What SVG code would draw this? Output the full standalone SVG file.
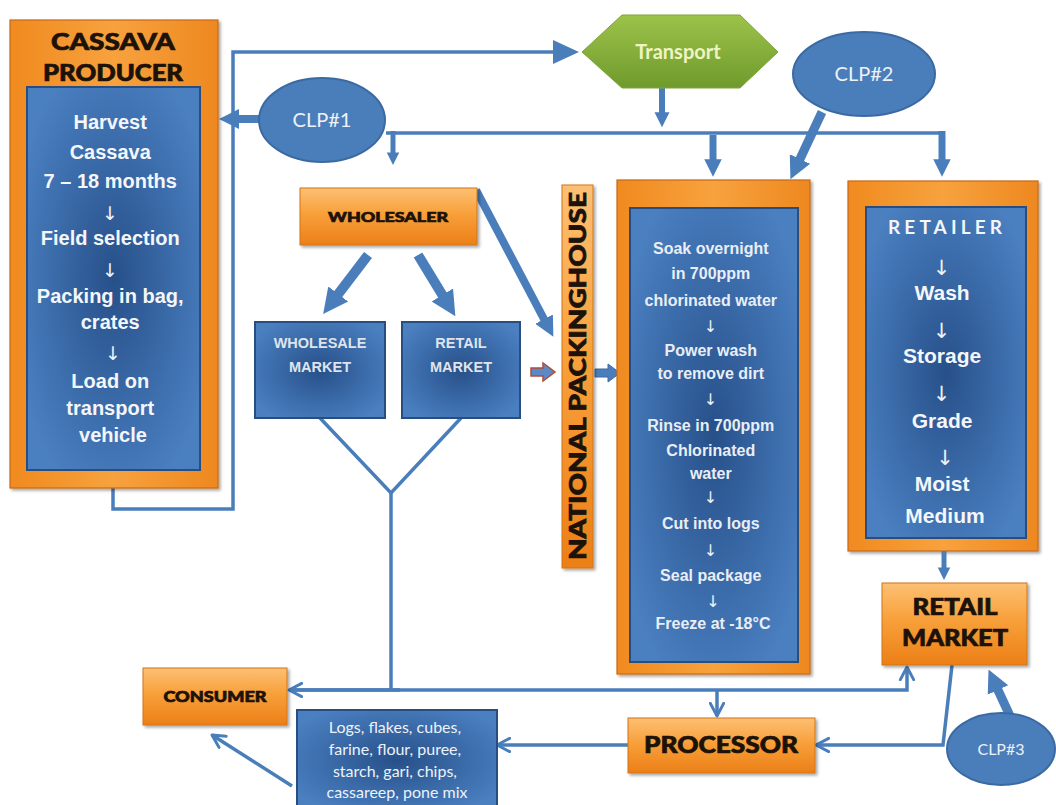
<svg xmlns="http://www.w3.org/2000/svg" width="1056" height="805" viewBox="0 0 1056 805">
  <defs>
    <linearGradient id="orange" x1="0" y1="0" x2="0" y2="1">
      <stop offset="0" stop-color="#fdc074"/>
      <stop offset="0.45" stop-color="#f8a03a"/>
      <stop offset="1" stop-color="#ec7f17"/>
    </linearGradient>
    <linearGradient id="frame" x1="0" y1="0" x2="1" y2="0">
      <stop offset="0" stop-color="#f08a1f"/>
      <stop offset="0.5" stop-color="#f7a23e"/>
      <stop offset="1" stop-color="#ee8820"/>
    </linearGradient>
    <radialGradient id="blue" cx="0.5" cy="0.5" r="0.6">
      <stop offset="0" stop-color="#275089"/>
      <stop offset="0.55" stop-color="#3a6aa8"/>
      <stop offset="1" stop-color="#4a7fc0"/>
    </radialGradient>
    <linearGradient id="green" x1="0" y1="0" x2="0" y2="1">
      <stop offset="0" stop-color="#9cc24a"/>
      <stop offset="1" stop-color="#6f9b2c"/>
    </linearGradient>
    <filter id="shadow" x="-10%" y="-10%" width="125%" height="125%">
      <feDropShadow dx="2" dy="2" stdDeviation="1.5" flood-color="#000" flood-opacity="0.35"/>
    </filter>
    <!-- solid head for the heavy block arrows, scales with stroke width -->
    <marker id="head" viewBox="0 0 10 10" refX="0.5" refY="5" markerWidth="2.5" markerHeight="2.8" markerUnits="strokeWidth" orient="auto">
      <path d="M0,0 L10,5 L0,10 Z" fill="#4a7ebb"/>
    </marker>
    <!-- open chevron head for the thin flow lines -->
    <marker id="vee" viewBox="0 0 12 12" refX="10.5" refY="6" markerWidth="16" markerHeight="16" markerUnits="userSpaceOnUse" orient="auto">
      <path d="M1,1 L10.5,6 L1,11" fill="none" stroke="#4a7ebb" stroke-width="2.2" stroke-linecap="round" stroke-linejoin="round"/>
    </marker>
    <style>
      .box { fill: url(#orange); stroke: #d27419; stroke-width: 1; filter: url(#shadow); }
      .frame { fill: url(#frame); stroke: #c9691a; stroke-width: 1.2; filter: url(#shadow); }
      .inner { fill: url(#blue); stroke: #284d80; stroke-width: 2; }
      .clp { fill: #4a7ebb; stroke: #3b6aa3; stroke-width: 2; }
      .line { fill: none; stroke: #4a7ebb; stroke-width: 3.5; }
      .thick { fill: none; stroke: #4a7ebb; marker-end: url(#head); }
      .lbl { font-family: Lato, "Open Sans", "Liberation Sans", sans-serif; font-weight: 900; fill: #1c1209; stroke: #1c1209; stroke-width: 0.7; text-anchor: middle; }
      .step { font-family: "Liberation Sans", Arial, sans-serif; font-weight: bold; fill: #f4f6fa; text-anchor: middle; }
      .pack { font-family: "Liberation Sans", Arial, sans-serif; font-weight: bold; font-size: 16px; fill: #e9eef6; text-anchor: middle; }
      .mkt { font-family: "Liberation Sans", Arial, sans-serif; font-weight: bold; font-size: 14.5px; fill: #dfe4ec; text-anchor: middle; }
      .clpt { font-family: Lato, "Open Sans", sans-serif; fill: #eef2f8; text-anchor: middle; }
      .arr { font-family: "DejaVu Sans", sans-serif; fill: #eef2f8; text-anchor: middle; }
    </style>
  </defs>

  <rect width="1056" height="805" fill="#ffffff"/>

  <!-- connectors -->
  <g id="connectors">
    <!-- producer loop out to transport -->
    <path class="line" d="M113,486 V509 H233 V52 H556"/>
    <polygon points="553,40 579,52 553,64" fill="#4a7ebb"/>
    <!-- CLP#1 distribution bus -->
    <path class="line" d="M386,133 H942"/>
    <line class="thick" x1="393" y1="131" x2="393" y2="153" stroke-width="5"/>
    <line class="thick" x1="713" y1="135" x2="713" y2="160" stroke-width="7"/>
    <line class="thick" x1="942" y1="131" x2="942" y2="160" stroke-width="7"/>
    <!-- transport down to bus -->
    <line class="thick" x1="662" y1="88" x2="662" y2="113" stroke-width="6"/>
    <!-- CLP#1 to producer -->
    <line class="thick" x1="259" y1="119" x2="238" y2="119" stroke-width="8"/>
    <!-- CLP#2 to packing -->
    <line class="thick" x1="822" y1="112" x2="799.5" y2="160" stroke-width="9"/>
    <!-- wholesaler outputs -->
    <line class="thick" x1="368" y1="255" x2="337.5" y2="295" stroke-width="10"/>
    <line class="thick" x1="418" y1="255" x2="443" y2="296" stroke-width="10"/>
    <line class="thick" x1="476" y1="190" x2="544.5" y2="320" stroke-width="8"/>
    <!-- small block arrows into the packinghouse -->
    <polygon points="531,368 543,368 543,363 555,372 543,381 543,376 531,376" fill="#5a89c6" stroke="#b04e38" stroke-width="1.5"/>
    <polygon points="595,369 608,369 608,364 620,373 608,382 608,377 595,377" fill="#4a7ebb" stroke="#3b6aa3" stroke-width="1"/>
    <!-- markets merge down to consumer line -->
    <path class="line" d="M320,418 L391,493 L461,418" stroke-width="3"/>
    <path class="line" d="M391,493 V690" stroke-width="3"/>
    <!-- consumer / retail line -->
    <path class="line" d="M289,690 H907 V667" marker-end="url(#vee)"/>
    <line class="line" x1="400" y1="690" x2="289" y2="690" marker-end="url(#vee)"/>
    <line class="line" x1="717" y1="690" x2="717" y2="716" marker-end="url(#vee)"/>
    <!-- retail market down to processor -->
    <path class="line" d="M952,665 L943,745 H816" marker-end="url(#vee)"/>
    <!-- processor to products -->
    <line class="line" x1="628" y1="745" x2="497" y2="745" marker-end="url(#vee)"/>
    <!-- products to consumer -->
    <line class="line" x1="292" y1="786" x2="212" y2="735" marker-end="url(#vee)"/>
    <!-- CLP#3 to retail market -->
    <line class="thick" x1="1010" y1="716" x2="997.5" y2="689" stroke-width="9"/>
  </g>

  <!-- cassava producer -->
  <g id="producer">
    <rect class="frame" x="10" y="20" width="208" height="468"/>
    <text class="lbl" x="113" y="50" font-size="22" textLength="124" lengthAdjust="spacingAndGlyphs">CASSAVA</text>
    <text class="lbl" x="113" y="81" font-size="22" textLength="140" lengthAdjust="spacingAndGlyphs">PRODUCER</text>
    <rect class="inner" x="27" y="87" width="173" height="383"/>
    <text class="step" font-size="20">
      <tspan x="113" y="129">Harvest</tspan>
      <tspan x="113" y="159">Cassava</tspan>
      <tspan x="113" y="188">7 – 18 months</tspan>
      <tspan x="113" y="245">Field selection</tspan>
      <tspan x="113" y="303">Packing in bag,</tspan>
      <tspan x="113" y="329">crates</tspan>
      <tspan x="113" y="388">Load on</tspan>
      <tspan x="113" y="415">transport</tspan>
      <tspan x="113" y="442">vehicle</tspan>
    </text>
    <text class="arr" font-size="19">
      <tspan x="113" y="220">↓</tspan>
      <tspan x="113" y="277">↓</tspan>
      <tspan x="113" y="360">↓</tspan>
    </text>
  </g>

  <!-- transport -->
  <g id="transport">
    <polygon points="582,52 622,15 740,15 778,52 740,88 622,88" fill="url(#green)" stroke="#7ea43a" stroke-width="1"/>
    <text x="678" y="59" font-family="Lato, 'Open Sans', sans-serif" font-weight="bold" font-size="20" fill="#eef4c4" text-anchor="middle">Transport</text>
  </g>

  <!-- control points -->
  <g id="clp1">
    <ellipse class="clp" cx="322" cy="120" rx="63" ry="42"/>
    <text class="clpt" x="322" y="127" font-size="20">CLP#1</text>
  </g>
  <g id="clp2">
    <ellipse class="clp" cx="864" cy="74" rx="71" ry="42"/>
    <text class="clpt" x="864" y="81" font-size="20">CLP#2</text>
  </g>
  <g id="clp3">
    <ellipse class="clp" cx="1001" cy="749" rx="54" ry="36"/>
    <text class="clpt" x="1001" y="755" font-size="16">CLP#3</text>
  </g>

  <!-- wholesaler -->
  <g id="wholesaler">
    <rect class="box" x="300" y="188" width="177" height="57"/>
    <text class="lbl" x="388" y="222" font-size="14" textLength="120" lengthAdjust="spacingAndGlyphs">WHOLESALER</text>
  </g>

  <g id="wholesale-market">
    <rect class="inner" x="255" y="322" width="130" height="96"/>
    <text class="mkt"><tspan x="320" y="348">WHOLESALE</tspan><tspan x="320" y="372">MARKET</tspan></text>
  </g>

  <g id="retail-market-small">
    <rect class="inner" x="402" y="322" width="118" height="96"/>
    <text class="mkt"><tspan x="461" y="348">RETAIL</tspan><tspan x="461" y="372">MARKET</tspan></text>
  </g>

  <!-- national packinghouse -->
  <g id="packinghouse-label">
    <rect class="box" x="562" y="185" width="31" height="383"/>
    <text class="lbl" transform="translate(585.5,376) rotate(-90)" x="0" y="0" font-size="22" textLength="368" lengthAdjust="spacingAndGlyphs">NATIONAL PACKINGHOUSE</text>
  </g>

  <g id="packinghouse">
    <rect class="frame" x="617" y="180" width="193" height="494"/>
    <rect class="inner" x="630" y="208" width="168" height="454"/>
    <text class="pack">
      <tspan x="713" y="254">Soak overnight</tspan>
      <tspan x="713" y="279">in 700ppm</tspan>
      <tspan x="713" y="306">chlorinated water</tspan>
      <tspan x="713" y="356">Power wash</tspan>
      <tspan x="713" y="379">to remove dirt</tspan>
      <tspan x="713" y="431">Rinse in 700ppm</tspan>
      <tspan x="713" y="456">Chlorinated</tspan>
      <tspan x="713" y="479">water</tspan>
      <tspan x="713" y="529">Cut into logs</tspan>
      <tspan x="713" y="581">Seal package</tspan>
      <tspan x="713" y="629">Freeze at -18°C</tspan>
    </text>
    <text class="arr" font-size="16">
      <tspan x="713" y="332">↓</tspan>
      <tspan x="713" y="405">↓</tspan>
      <tspan x="713" y="503">↓</tspan>
      <tspan x="713" y="556">↓</tspan>
      <tspan x="713" y="607">↓</tspan>
    </text>
  </g>

  <!-- retailer -->
  <g id="retailer">
    <rect class="frame" x="848" y="181" width="190" height="370"/>
    <rect class="inner" x="866" y="207" width="160" height="331"/>
    <text x="945" y="234" font-family="Lato, 'Open Sans', sans-serif" font-weight="bold" font-size="19" fill="#f4f6fa" text-anchor="middle" textLength="114" lengthAdjust="spacing">RETAILER</text>
    <text class="step" font-size="21">
      <tspan x="945" y="300">Wash</tspan>
      <tspan x="945" y="363">Storage</tspan>
      <tspan x="945" y="428">Grade</tspan>
      <tspan x="945" y="491">Moist</tspan>
      <tspan x="945" y="523">Medium</tspan>
    </text>
    <text class="arr" font-size="21">
      <tspan x="945" y="275">↓</tspan>
      <tspan x="945" y="338">↓</tspan>
      <tspan x="945" y="401">↓</tspan>
      <tspan x="945" y="465">↓</tspan>
    </text>
  </g>

  <g id="retail-market">
    <line x1="944" y1="551" x2="944" y2="568" stroke="#4a7ebb" stroke-width="5" marker-end="url(#head)"/>
    <rect class="box" x="882" y="583" width="145" height="82"/>
    <text class="lbl" x="955" y="615" font-size="23" textLength="85" lengthAdjust="spacingAndGlyphs">RETAIL</text>
    <text class="lbl" x="955" y="646" font-size="23" textLength="106" lengthAdjust="spacingAndGlyphs">MARKET</text>
  </g>

  <g id="consumer">
    <rect class="box" x="143" y="668" width="144" height="57"/>
    <text class="lbl" x="215" y="702" font-size="15" textLength="103" lengthAdjust="spacingAndGlyphs">CONSUMER</text>
  </g>

  <g id="processor">
    <rect class="box" x="628" y="718" width="187" height="55"/>
    <text class="lbl" x="721" y="753" font-size="22" textLength="154" lengthAdjust="spacingAndGlyphs">PROCESSOR</text>
  </g>

  <g id="products">
    <rect class="inner" x="297" y="710" width="200" height="100"/>
    <text font-family="Lato, 'Open Sans', sans-serif" font-size="16" fill="#eef2f8" text-anchor="middle">
      <tspan x="397" y="733">Logs, flakes, cubes,</tspan>
      <tspan x="397" y="755">farine, flour, puree,</tspan>
      <tspan x="397" y="777">starch, gari, chips,</tspan>
      <tspan x="397" y="798">cassareep, pone mix</tspan>
    </text>
  </g>
</svg>
